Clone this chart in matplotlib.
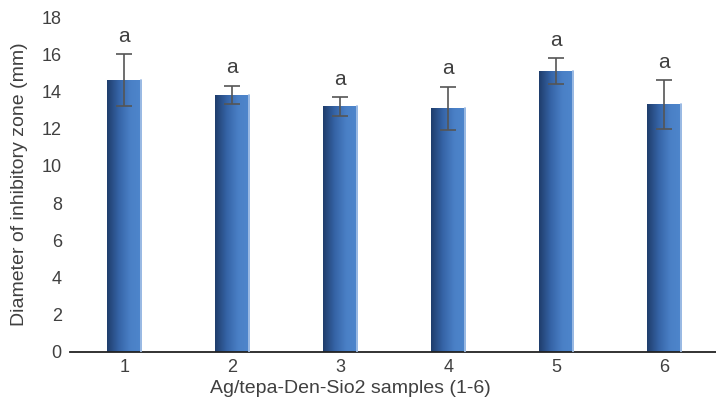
import numpy as np
import matplotlib.pyplot as plt
from matplotlib.colors import LinearSegmentedColormap
from matplotlib.patches import Rectangle

plt.rcParams['font.family'] = ['Liberation Sans', 'DejaVu Sans']

samples = ['1', '2', '3', '4', '5', '6']
zone_mm = [14.6, 13.8, 13.2, 13.1, 15.1, 13.3]
zone_err = [1.4, 0.5, 0.5, 1.15, 0.7, 1.3]
letters = ['a', 'a', 'a', 'a', 'a', 'a']

txt = '#404040'
fig = plt.figure(figsize=(7.16, 4.05), dpi=100)
ax = fig.add_axes([0.098, 0.131, 0.905, 0.827])

x = np.arange(1, len(samples) + 1)
w = 0.32
# dark-to-light horizontal shading for each bar
cmap = LinearSegmentedColormap.from_list('bar', ['#1f3d6b', '#3563a6', '#4a80c6', '#4e86cc'])
grad = np.linspace(0, 1, 256).reshape(1, -1)
for xi, h in zip(x, zone_mm):
    im = ax.imshow(grad, cmap=cmap, aspect='auto',
                   extent=(xi - w / 2, xi + w / 2, 0, h), zorder=2)
    clip = Rectangle((xi - w / 2, 0), w, h, transform=ax.transData)
    im.set_clip_path(clip)
    ax.plot([xi + w / 2, xi + w / 2], [0, h], color='#a9c4e8', lw=1.2, zorder=3)

ax.errorbar(x, zone_mm, yerr=zone_err, fmt='none', ecolor='#555555',
            elinewidth=1.2, capsize=6, capthick=1.2, zorder=4)
for xi, h, e, s in zip(x, zone_mm, zone_err, letters):
    ax.text(xi, h + e + 0.45, s, ha='center', va='bottom', fontsize=15, color=txt)

ax.set_xlim(0.5, 6.5)
ax.set_ylim(0, 18)
ax.set_yticks(np.arange(0, 19, 2))
ax.set_xticks(x)
ax.set_xticklabels(samples)
ax.tick_params(axis='both', length=0, labelsize=13, colors=txt)
ax.tick_params(axis='x', pad=5)
ax.tick_params(axis='y', pad=6)
for side in ['top', 'right', 'left']:
    ax.spines[side].set_visible(False)
ax.spines['bottom'].set_color('#222222')
ax.spines['bottom'].set_linewidth(1.3)

ax.set_xlabel('Ag/tepa-Den-Sio2 samples (1-6)', fontsize=14, color=txt, labelpad=1)
ax.xaxis.set_label_coords(0.433, -0.085)
ax.set_ylabel('Diameter of inhibitory zone (mm)', fontsize=14, color=txt, labelpad=10)

fig.savefig('out.png', dpi=100)
